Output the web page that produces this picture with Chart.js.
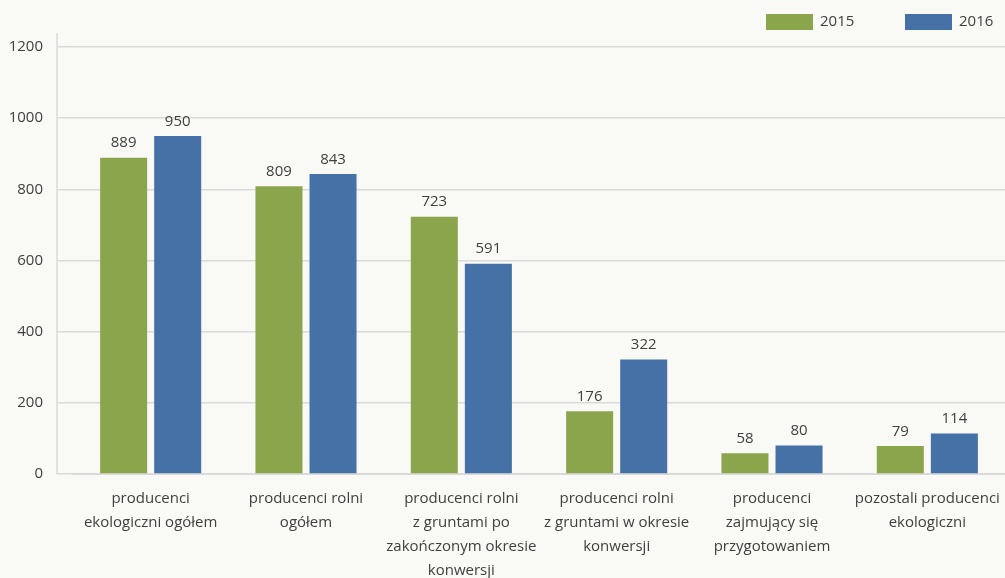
<!DOCTYPE html>
<html lang="pl">
<head>
  <meta charset="UTF-8">
  <title>Producenci ekologiczni 2015–2016</title>
  <script src="https://cdn.jsdelivr.net/npm/chart.js"></script>
  <style>
    html, body {
      margin: 0;
      padding: 0;
      background: #f9faf6;
    }
    #wrap {
      width: 1005px;
      height: 578px;
      position: relative;
    }
  </style>
</head>
<body>
  <div id="wrap"><canvas id="chart"></canvas></div>

  <script>
    // kategorie producentów (etykiety wielowierszowe)
    const categories = [
      ["producenci", "ekologiczni ogółem"],
      ["producenci rolni", "ogółem"],
      ["producenci rolni", "z gruntami po", "zakończonym okresie", "konwersji"],
      ["producenci rolni", "z gruntami w okresie", "konwersji"],
      ["producenci", "zajmujący się", "przygotowaniem"],
      ["pozostali producenci", "ekologiczni"]
    ];
    const values2015 = [889, 809, 723, 176, 58, 79];
    const values2016 = [950, 843, 591, 322, 80, 114];
    const yTicks = [0, 200, 400, 600, 800, 1000, 1200];

    const textColor = "#404040";
    const gridColor = "#dadada";
    const font = { family: "'Open Sans', 'Noto Sans', sans-serif", size: 15 };

    // wartości nad słupkami
    const valueLabels = {
      id: "valueLabels",
      afterDatasetsDraw(chart) {
        const ctx = chart.ctx;
        ctx.save();
        ctx.font = `${font.size}px ${font.family}`;
        ctx.fillStyle = textColor;
        ctx.textAlign = "center";
        ctx.textBaseline = "bottom";
        chart.data.datasets.forEach((ds, i) => {
          chart.getDatasetMeta(i).data.forEach((bar, j) => {
            ctx.fillText(ds.data[j], bar.x, bar.y - 7);
          });
        });
        ctx.restore();
      }
    };

    // pionowa linia osi i legenda w prawym górnym rogu
    const frame = {
      id: "frame",
      beforeDatasetsDraw(chart) {
        const { ctx, chartArea } = chart;
        ctx.save();
        ctx.strokeStyle = gridColor;
        ctx.lineWidth = 1.5;
        ctx.beginPath();
        ctx.moveTo(chartArea.left - 16, 33);
        ctx.lineTo(chartArea.left - 16, chartArea.bottom);
        ctx.stroke();
        ctx.restore();
      },
      afterDraw(chart) {
        const ctx = chart.ctx;
        const xs = [766, 905];
        ctx.save();
        ctx.font = `${font.size}px ${font.family}`;
        ctx.textBaseline = "middle";
        ctx.textAlign = "left";
        chart.data.datasets.forEach((ds, i) => {
          ctx.fillStyle = ds.backgroundColor;
          ctx.fillRect(xs[i], 14, 47, 16);
          ctx.fillStyle = textColor;
          ctx.fillText(ds.label, xs[i] + 54, 22);
        });
        ctx.restore();
      }
    };

    new Chart(document.getElementById("chart"), {
      type: "bar",
      data: {
        labels: categories,
        datasets: [
          { label: "2015", data: values2015, backgroundColor: "#8ba54c" },
          { label: "2016", data: values2016, backgroundColor: "#4671a7" }
        ]
      },
      options: {
        responsive: true,
        maintainAspectRatio: false,
        animation: false,
        layout: { padding: { top: 47, right: 0, left: 0, bottom: 0 } },
        categoryPercentage: 0.696,
        barPercentage: 0.87,
        plugins: {
          legend: { display: false },
          tooltip: { enabled: false }
        },
        scales: {
          x: {
            grid: { display: false },
            border: { color: gridColor, width: 2 },
            ticks: {
              color: textColor,
              font: { ...font, lineHeight: 1.6 },
              padding: 5,
              maxRotation: 0,
              autoSkip: false
            },
            afterFit(scale) { scale.height = 104; }
          },
          y: {
            min: 0,
            max: 1200,
            afterBuildTicks(scale) {
              scale.ticks = yTicks.map(v => ({ value: v }));
            },
            grid: {
              color: gridColor,
              lineWidth: 1.5,
              drawTicks: true,
              tickLength: 16,
              tickColor: gridColor
            },
            border: { display: false },
            ticks: {
              color: textColor,
              font: font,
              padding: 14,
              callback: v => String(v)
            },
            afterFit(scale) { scale.width = 73; }
          }
        }
      },
      plugins: [valueLabels, frame]
    });
  </script>
</body>
</html>
